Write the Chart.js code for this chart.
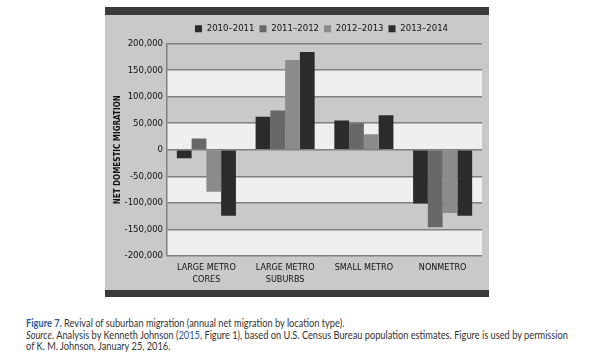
<!DOCTYPE html>
<html><head><meta charset="utf-8">
<script src="https://cdn.jsdelivr.net/npm/chart.js@4.4.0/dist/chart.umd.min.js"></script>
<style>
html,body{margin:0;padding:0;background:#fff;width:600px;height:360px;overflow:hidden}
#wrap{position:absolute;left:0;top:0;width:600px;height:300px}
#cap{position:absolute;left:26px;top:318px;font-family:Lato,'Open Sans',sans-serif;font-size:10.5px;line-height:11.5px;color:#333;white-space:nowrap;transform-origin:0 0}
.b{color:#2a5b9c;font-weight:bold}
.l{color:#2a5b9c}
</style></head><body>
<div id="wrap"><canvas id="c" width="600" height="300"></canvas></div>
<div id="cap">
<div><span class="b">Figure 7.</span> Revival of suburban migration (annual net migration by location type).</div>
<div><i>Source</i>. Analysis by Kenneth Johnson (<span class="l">2015</span>, Figure 1), based on U.S. Census Bureau population estimates. Figure is used by permission</div>
<div>of K. M. Johnson, January 25, 2016.</div>
</div>
<script>
const categories = [["LARGE METRO","CORES"],["LARGE METRO","SUBURBS"],"SMALL METRO","NONMETRO"];
const seriesNames = ["2010–2011","2011–2012","2012–2013","2013–2014"];
const s2010_2011 = [-16000, 62000, 55000, -101000];
const s2011_2012 = [21000, 74000, 50000, -146000];
const s2012_2013 = [-79000, 169000, 29000, -119000];
const s2013_2014 = [-124000, 184000, 65000, -124000];
const yTicks = [200000,150000,100000,50000,0,-50000,-100000,-150000,-200000];

const NARROW = "'DejaVu Sans Condensed','Liberation Sans Narrow',Arial,sans-serif";
const colors = ['#2b2b2b','#686868','#8b8b8b','#2b2b2b'];
const seriesData = [s2010_2011,s2011_2012,s2012_2013,s2013_2014];

const panel = {
  id:'panel',
  beforeDraw(chart){
    const ctx=chart.ctx, a=chart.chartArea, y=chart.scales.y;
    ctx.save();
    ctx.fillStyle='#c9c9c9'; ctx.fillRect(105,7,384,290);
    ctx.fillStyle='#3a3a3a'; ctx.fillRect(105,7,384,8); ctx.fillRect(105,290,384,7);
    for(let i=0;i<yTicks.length-1;i++){
      const t=y.getPixelForValue(yTicks[i]), b=y.getPixelForValue(yTicks[i+1]);
      ctx.fillStyle = i%2===0 ? '#c9c9c9' : '#efefef';
      ctx.fillRect(a.left,t,a.right-a.left,b-t);
    }
    ctx.restore();
  },
  afterLayout(chart){ const l=chart.legend; if(l){ l.left+=28; l.right+=28; } }
};

new Chart(document.getElementById('c'), {
  type:'bar',
  data:{
    labels:categories,
    datasets:seriesNames.map((n,i)=>({label:n,data:seriesData[i],backgroundColor:colors[i],borderWidth:0,categoryPercentage:0.75,barPercentage:1}))
  },
  options:{
    responsive:false, animation:false,
    layout:{padding:{left:105,right:118,top:19,bottom:10}},
    plugins:{
      legend:{position:'top',labels:{boxWidth:7,boxHeight:7,padding:5,color:'#111',font:{family:NARROW,size:9.5}}},
      tooltip:{enabled:false}
    },
    scales:{
      x:{
        grid:{display:false,drawTicks:false}, border:{display:false},
        ticks:{color:'#111',font:{family:NARROW,size:9,lineHeight:1.4},padding:5,maxRotation:0,autoSkip:false},
        afterFit(s){ s.height=34; }
      },
      y:{
        min:-200000,max:200000,
        afterBuildTicks(s){ s.ticks = yTicks.map(v=>({value:v})); },
        grid:{color:'#808080',lineWidth:1.5,drawTicks:false},
        border:{color:'#808080',width:1.5},
        ticks:{color:'#111',font:{family:NARROW,size:9.5},padding:4,callback:v=>v.toLocaleString('en-US')},
        title:{display:true,text:'NET DOMESTIC MIGRATION',color:'#111',font:{family:NARROW,size:8,weight:'bold'},padding:{top:8,bottom:0}},
        afterFit(s){ s.width=62; }
      }
    }
  },
  plugins:[panel]
});

function fitCap(){
  const cap=document.getElementById('cap');
  cap.style.transform='none';
  const w=cap.getBoundingClientRect().width;
  cap.style.transform='scaleX('+(542/w)+')';
}
fitCap();
if(document.fonts) document.fonts.ready.then(fitCap);
</script>
</body></html>
